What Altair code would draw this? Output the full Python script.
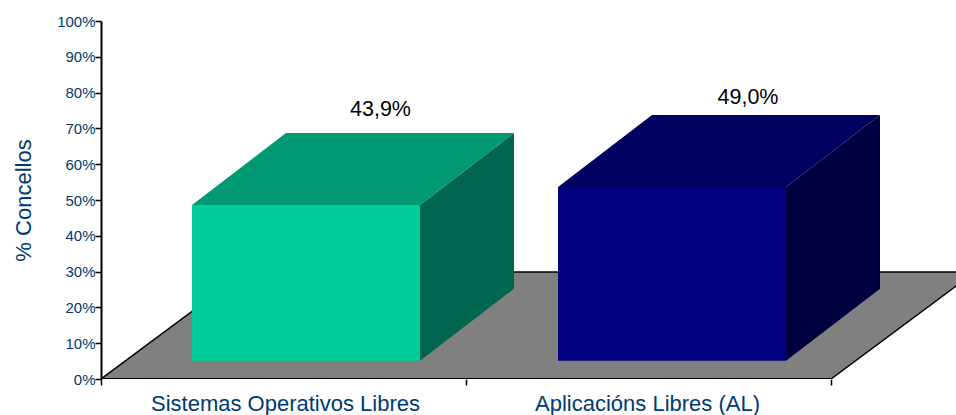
import altair as alt
import pandas as pd

categories = ["Sistemas Operativos Libres", "Aplicacións Libres (AL)"]
values = [43.9, 49.0]
value_labels = ["43,9%", "49,0%"]
front_colors = ["#00CC99", "#000080"]
top_colors = ["#009973", "#000060"]
side_colors = ["#006650", "#000040"]

ink = "#003A70"
font = "Liberation Sans"
CAT_PX = 365.0
PX_PER_PCT = 3.58
W, H = 855, 358
FLOOR_DX, FLOOR_DY = 144 / CAT_PX, 107 / PX_PER_PCT
BAR_DX, BAR_DY = 94 / CAT_PX, 72 / PX_PER_PCT
BAR_LEFT = [91 / CAT_PX, 457 / CAT_PX]
BAR_W = 228 / CAT_PX
BAR_BASE = 18.3 / PX_PER_PCT
FRONT_SCALE = 0.9905  # the bars stand on the floor, slightly behind the axis plane

xs = alt.Scale(domain=[0, W / CAT_PX], nice=False, zero=False)
ys = alt.Scale(domain=[0, 100], nice=False)
x_axis = alt.Axis(
    values=[0, 1, 2], labels=False, title=None, domain=False,
    tickColor="black", tickWidth=1.5, tickSize=6, grid=False)
y_axis = alt.Axis(
    values=list(range(0, 101, 10)), labelExpr="datum.value + '%'",
    title="% Concellos", titleFont=font, titleFontSize=22, titleFontWeight="normal",
    titleColor=ink, titlePadding=21, labelFont=font, labelFontSize=15, labelColor=ink,
    labelPadding=0, tickColor="black", tickWidth=1.5, tickSize=6, domainColor="black",
    domainWidth=2, grid=False)
X = lambda f: alt.X(f, type="quantitative", scale=xs, axis=x_axis)
Y = lambda f: alt.Y(f, type="quantitative", scale=ys, axis=y_axis)


def hband(x0, x1, y0, dx, dy, color, **kw):
    d = pd.DataFrame({"x": [x0, x0 + dx], "x2": [x1, x1 + dx], "y": [y0, y0 + dy]})
    return alt.Chart(d).mark_area(orient="horizontal", color=color, **kw).encode(
        y=Y("y"), x=X("x"), x2="x2:Q")


def vband(x0, y0, y1, dx, dy, color):
    d = pd.DataFrame({"x": [x0, x0 + dx], "y": [y0, y0 + dy], "y2": [y1, y1 + dy]})
    return alt.Chart(d).mark_area(orient="vertical", color=color).encode(
        x=X("x"), y=Y("y"), y2="y2:Q")


def seg(x0, y0, x1, y1, width=1.5):
    d = pd.DataFrame({"x": [x0, x1], "y": [y0, y1]})
    return alt.Chart(d).mark_line(color="black", strokeWidth=width, clip=True).encode(
        x=X("x"), y=Y("y"))


layers = []
# floor
layers.append(hband(0, 2, 0, FLOOR_DX, FLOOR_DY, "#808080", clip=True))
layers.append(seg(0, 0, FLOOR_DX, FLOOR_DY))
layers.append(seg(2, 0, 2 + FLOOR_DX, FLOOR_DY))
layers.append(seg(FLOOR_DX, FLOOR_DY, 2 + FLOOR_DX, FLOOR_DY))
layers.append(seg(0, 0, 2, 0, 2))

# bars
for i, v in enumerate(values):
    l, r = BAR_LEFT[i], BAR_LEFT[i] + BAR_W
    top = BAR_BASE + v * FRONT_SCALE
    layers.append(vband(r, BAR_BASE, top, BAR_DX, BAR_DY, side_colors[i]))
    layers.append(hband(l, r, top, BAR_DX, BAR_DY, top_colors[i]))
    front = pd.DataFrame({"x": [l], "x2": [r], "y": [BAR_BASE], "y2": [top]})
    layers.append(alt.Chart(front).mark_rect(color=front_colors[i]).encode(
        x=X("x"), x2="x2:Q", y=Y("y"), y2="y2:Q"))

# category labels
for i in range(2):
    cat_df = pd.DataFrame({"x": [i + 0.5], "y": [0], "t": [categories[i]]})
    layers.append(alt.Chart(cat_df).mark_text(
        font=font, fontSize=22, color=ink, baseline="alphabetic",
        dx=[2, -1][i], dy=32).encode(
        x=X("x"), y=Y("y"), text="t:N"))

# value labels
for i in range(2):
    val_df = pd.DataFrame({
        "x": [BAR_LEFT[i] + (BAR_W + BAR_DX) / 2],
        "y": [values[i] + BAR_BASE + BAR_DY],
        "t": [value_labels[i]],
    })
    layers.append(alt.Chart(val_df).mark_text(
        font=font, fontSize=21.5, color="black", baseline="alphabetic",
        dx=[27.5, 29][i], dy=[-15.5, -9][i]).encode(
        x=X("x"), y=Y("y"), text="t:N"))

chart = alt.layer(*layers).properties(
    width=W, height=H,
    padding={"left": 93, "top": 13, "right": 0, "bottom": 36},
    autosize=alt.AutoSizeParams(type="none"),
).configure_view(stroke=None)

chart.save("out.html", embed_options={
    "renderer": "svg", "actions": False,
    "defaultStyle": "html{height:415px;overflow:hidden}body{margin:8px 0 0 8px;height:407px;overflow:hidden}",
})
